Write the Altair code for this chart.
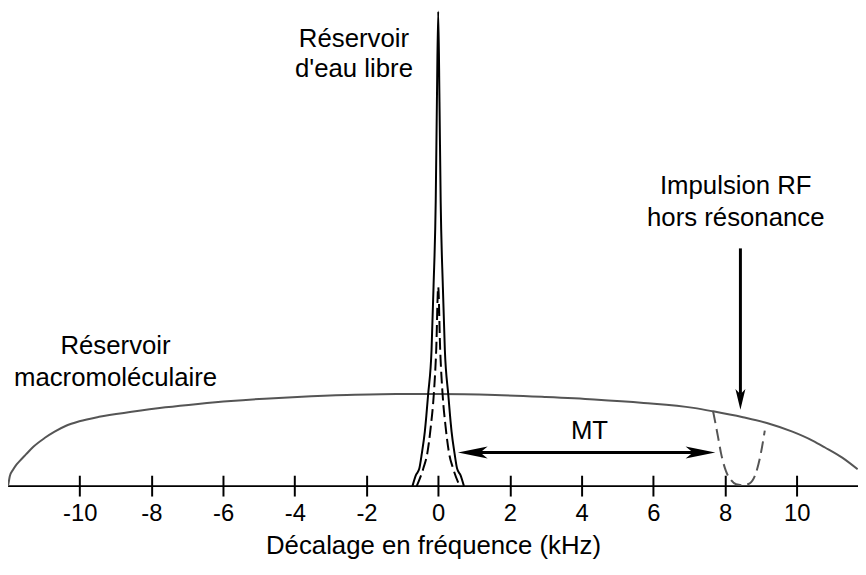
import altair as alt
import pandas as pd

FONT = "Liberation Sans"

# ---- axis ticks (kHz) ----
tick_values = [-10, -8, -6, -4, -2, 0, 2, 4, 6, 8, 10]

# ---- macromolecular pool (broad line) ----
macro_x = [-12.0, -11.97, -11.95, -11.86, -11.78, -11.67, -11.50, -11.30, -10.98, -10.70,
           -10.38, -10.01, -9.46, -8.55, -7.61, -6.70, -5.78, -4.84, -3.93, -2.55,
           -1.17, 0.0, 1.59, 2.97, 4.35, 5.73, 7.12, 7.67, 8.50, 9.19,
           9.88, 10.44, 10.79, 11.26, 11.70]
macro_y = [0.0, 1.25, 2.09, 3.44, 4.38, 5.32, 6.68, 8.25, 10.13, 11.48,
           12.73, 13.67, 14.61, 15.66, 16.60, 17.33, 17.95, 18.43, 18.79, 19.21,
           19.42, 19.42, 19.21, 18.79, 18.27, 17.54, 16.49, 15.76, 14.51, 13.26,
           11.48, 9.60, 8.14, 6.05, 3.55]

# ---- free water pool (narrow line, solid) ----
free_x = [-0.718, -0.622, -0.525, -0.456, -0.373, -0.331, -0.282, -0.185, -0.130, -0.069, -0.036, 0.0,
          0.036, 0.069, 0.130, 0.185, 0.282, 0.331, 0.373, 0.456, 0.525, 0.622, 0.718]
free_y = [0.0, 2.3, 3.76, 6.9, 11.5, 14.8, 19.2, 28.8, 42.0, 60.1, 81.0, 100.0,
          81.0, 60.1, 42.0, 28.8, 19.2, 14.8, 11.5, 6.9, 3.76, 2.3, 0.0]

# ---- free water pool after saturation (dashed) ----
sat_x = [-0.6, -0.414, -0.304, -0.207, -0.124, -0.055, 0.0, 0.055, 0.124, 0.207, 0.304, 0.414, 0.6]
sat_y = [0.0, 3.76, 6.9, 12.5, 19.2, 28.8, 42.0, 28.8, 19.2, 12.5, 6.9, 3.76, 0.0]

# ---- off-resonance RF pulse (dashed gray) ----
pulse_x = [7.67, 7.80, 7.89, 8.03, 8.17, 8.31, 8.50, 8.69, 8.83, 8.97, 9.11]
pulse_y = [15.7, 10.6, 6.9, 3.1, 1.25, 0.4, 0.2, 0.6, 2.1, 5.8, 11.7]

# ---- MT double arrow ----
mt_shaft_x = [1.15]
mt_shaft_x2 = [7.12]
mt_y = [7.1]
mt_left_tip = [0.55]
mt_right_tip = [7.73]

# ---- RF pulse arrow ----
rf_x = [8.43]
rf_top = [50.1]
rf_shaft_end = [19.4]
rf_tip = [16.1]

# ---- annotations ----
labels = ["Réservoir", "d'eau libre", "Réservoir", "macromoléculaire",
          "Impulsion RF", "hors résonance", "MT"]
label_x = [-2.35, -2.35, -9.0, -9.0, 8.3, 8.3, 4.22]
label_y = [92.5, 86.2, 27.8, 21.1, 61.6, 54.9, 10.0]

x_scale = alt.Scale(domain=[-12, 11.71], nice=False, zero=False)
y_scale = alt.Scale(domain=[0, 100], nice=False, zero=False)

x_axis = alt.Axis(
    values=tick_values, title="Décalage en fréquence (kHz)", domain=False,
    offset=-11, tickSize=21, tickWidth=2, tickColor="black", grid=False,
    labelFont=FONT, labelFontSize=24, labelColor="black", labelPadding=6,
    labelExpr="'' + datum.value", labelFlush=False,
    titleFont=FONT, titleFontSize=26, titleFontWeight="normal",
    titleColor="black", titlePadding=7,
)


def X(field):
    return alt.X(f"{field}:Q", scale=x_scale, axis=x_axis)


def Y(field):
    return alt.Y(f"{field}:Q", scale=y_scale, axis=None)


macro_df = pd.DataFrame({"x": macro_x, "y": macro_y})
free_df = pd.DataFrame({"x": free_x, "y": free_y})
sat_df = pd.DataFrame({"x": sat_x, "y": sat_y})
pulse_df = pd.DataFrame({"x": pulse_x, "y": pulse_y})
mt_df = pd.DataFrame({"x": mt_shaft_x, "x2": mt_shaft_x2, "y": mt_y,
                      "lt": mt_left_tip, "rt": mt_right_tip})
rf_df = pd.DataFrame({"x": rf_x, "y": rf_top, "y2": rf_shaft_end, "tip": rf_tip})
text_df = pd.DataFrame({"label": labels, "x": label_x, "y": label_y})

axis_line = alt.Chart(pd.DataFrame({"y": [0.0]})).mark_rule(
    color="black", strokeWidth=2).encode(y=Y("y"))

macro = alt.Chart(macro_df).mark_line(
    color="#555555", strokeWidth=2, interpolate="monotone").encode(x=X("x"), y=Y("y"))
free = alt.Chart(free_df).mark_line(
    color="black", strokeWidth=2, interpolate="monotone").encode(x=X("x"), y=Y("y"))
sat = alt.Chart(sat_df).mark_line(
    color="black", strokeWidth=2, strokeDash=[12, 5], interpolate="monotone").encode(x=X("x"), y=Y("y"))
pulse = alt.Chart(pulse_df).mark_line(
    color="#555555", strokeWidth=2, strokeDash=[12, 6], interpolate="monotone").encode(x=X("x"), y=Y("y"))

mt_shaft = alt.Chart(mt_df).mark_rule(color="black", strokeWidth=3).encode(
    x=X("x"), x2="x2:Q", y=Y("y"))
head_right = "M0,0L-1,-0.2L-0.75,0L-1,0.2Z"
head_left = "M0,0L1,-0.2L0.75,0L1,0.2Z"
head_down = "M0,0L-0.24,-1L0,-0.75L0.24,-1Z"
mt_lhead = alt.Chart(mt_df).mark_point(
    shape=head_left, size=3600, filled=True, color="black", opacity=1, strokeWidth=0).encode(
    x=X("lt"), y=Y("y"))
mt_rhead = alt.Chart(mt_df).mark_point(
    shape=head_right, size=3600, filled=True, color="black", opacity=1, strokeWidth=0).encode(
    x=X("rt"), y=Y("y"))

rf_shaft = alt.Chart(rf_df).mark_rule(color="black", strokeWidth=3).encode(
    x=X("x"), y=Y("y"), y2="y2:Q")
rf_head = alt.Chart(rf_df).mark_point(
    shape=head_down, size=1764, filled=True, color="black", opacity=1, strokeWidth=0).encode(
    x=X("x"), y=Y("tip"))

texts = alt.Chart(text_df).mark_text(
    font=FONT, fontSize=26, color="black", align="center", baseline="alphabetic").encode(
    x=X("x"), y=Y("y"), text="label:N")

chart = alt.layer(
    axis_line, macro, free, sat, pulse, mt_shaft, mt_lhead, mt_rhead, rf_shaft, rf_head, texts
).properties(
    width=858, height=479,
    padding={"left": 0, "top": 1, "right": 0, "bottom": 79},
    autosize="none",
).configure_view(stroke=None)

chart.save("out.html", embed_options={"renderer": "svg", "actions": False})
